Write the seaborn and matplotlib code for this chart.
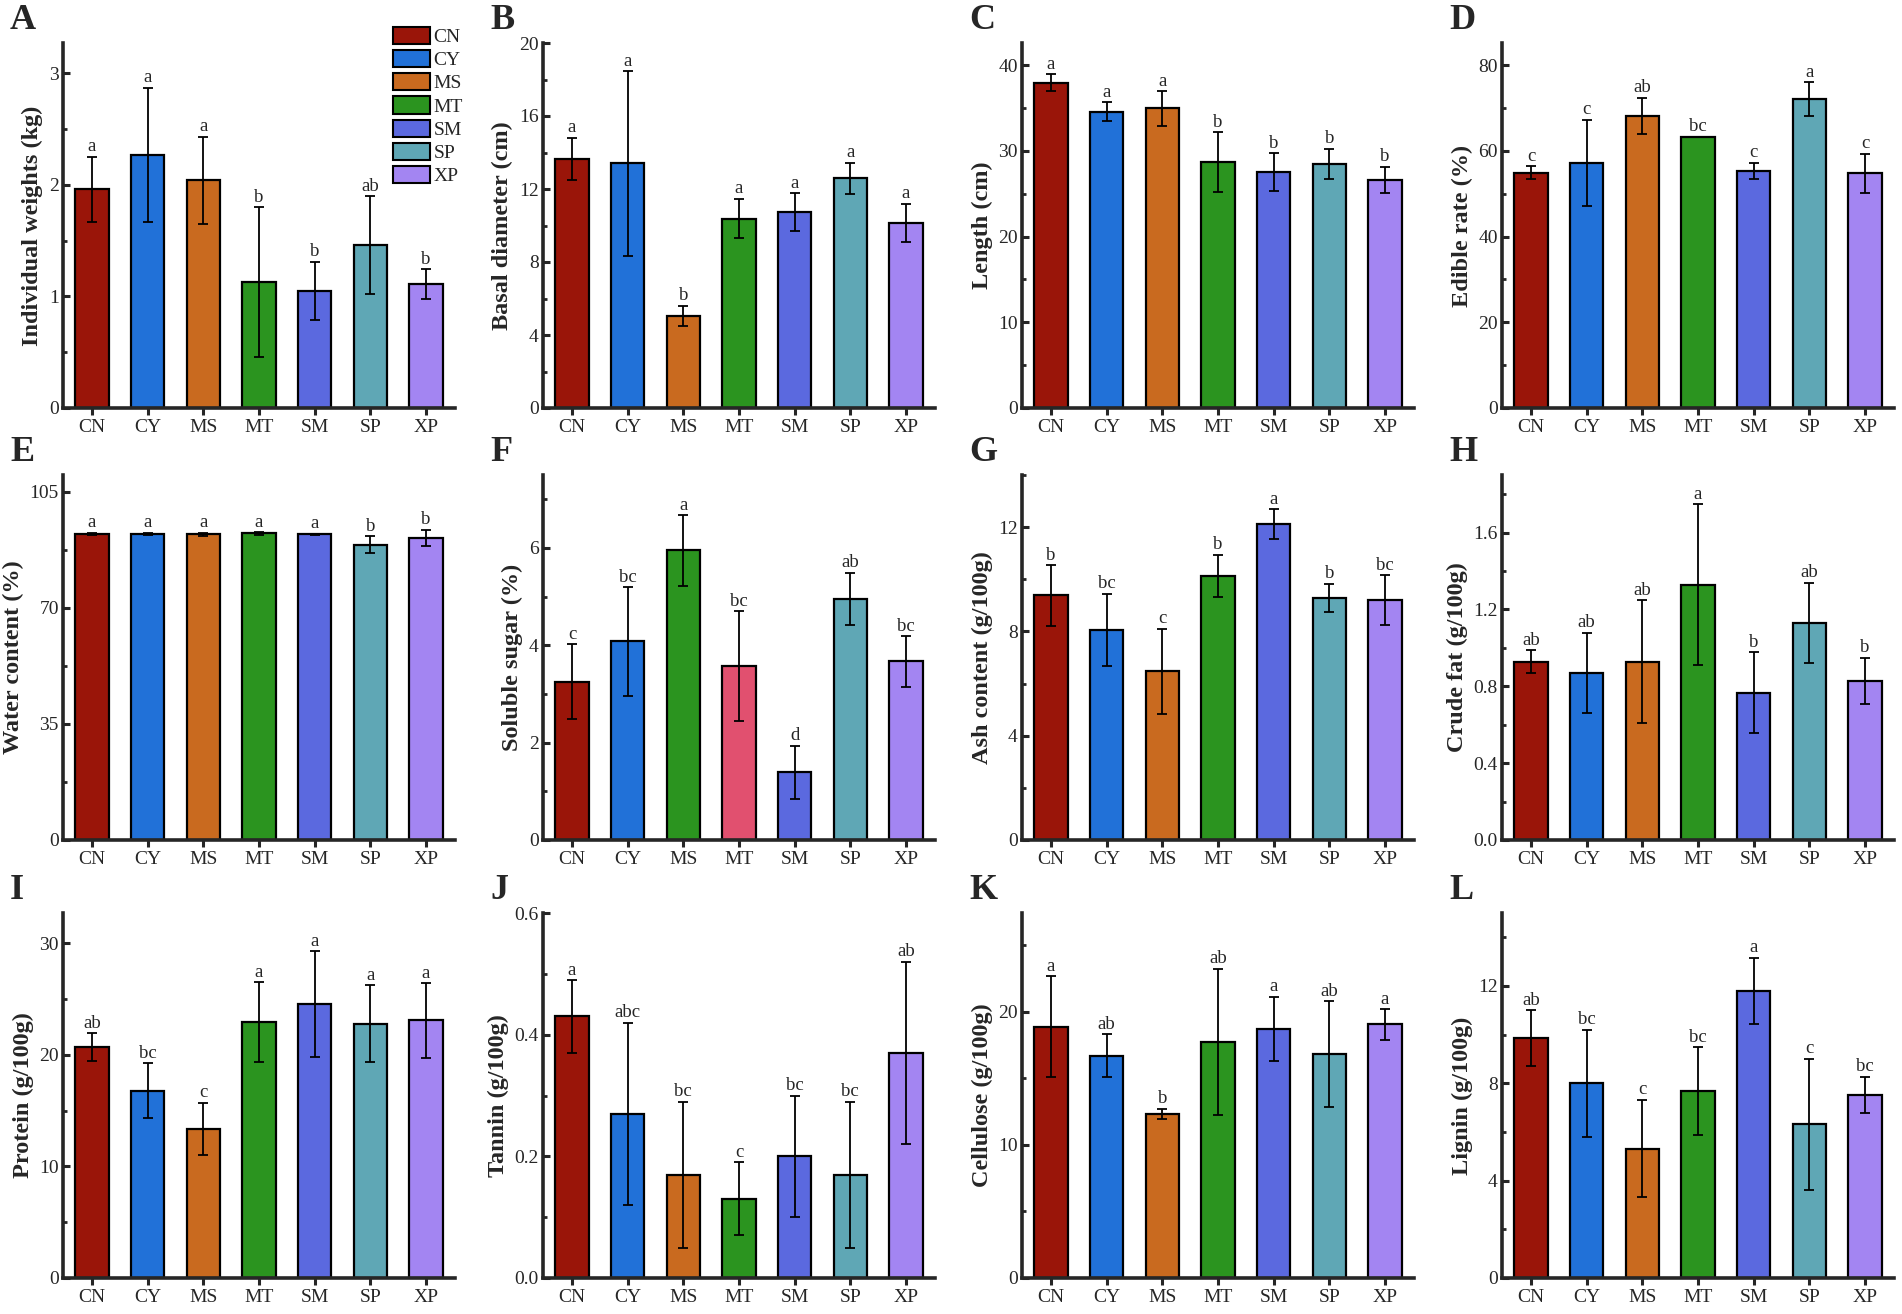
"""
Twelve-panel bar chart of fruit traits for seven groups (CN ... XP),
mean +/- error with significance letters on top of each bar.
"""

import matplotlib
matplotlib.use("Agg")
import matplotlib.pyplot as plt
from matplotlib.patches import Patch
from matplotlib.ticker import AutoMinorLocator, FormatStrFormatter, MultipleLocator
import seaborn as sns

# ---------- data ----------
groups = ["CN", "CY", "MS", "MT", "SM", "SP", "XP"]

weight = [1.96, 2.27, 2.04, 1.13, 1.05, 1.46, 1.11]
weight_err = [0.29, 0.60, 0.39, 0.67, 0.26, 0.44, 0.135]
weight_sig = ["a", "a", "a", "b", "b", "ab", "b"]

diameter = [13.65, 13.40, 5.05, 10.38, 10.73, 12.59, 10.16]
diameter_err = [1.17, 5.07, 0.55, 1.08, 1.05, 0.85, 1.04]
diameter_sig = ["a", "a", "b", "a", "a", "a", "a"]

length = [37.94, 34.57, 34.96, 28.67, 27.55, 28.52, 26.65]
length_err = [1.0, 1.12, 2.0, 3.5, 2.2, 1.75, 1.5]
length_sig = ["a", "a", "a", "b", "b", "b", "b"]

edible = [54.9, 57.2, 68.2, 63.3, 55.4, 72.1, 54.8]
edible_err = [1.5, 10.1, 4.2, 0.0, 1.9, 4.0, 4.6]
edible_sig = ["c", "c", "ab", "bc", "c", "a", "c"]

water = [92.35, 92.35, 92.15, 92.45, 92.15, 89.0, 91.0]
water_err = [0.3, 0.3, 0.5, 0.4, 0.2, 2.6, 2.5]
water_sig = ["a", "a", "a", "a", "a", "b", "b"]

sugar = [3.25, 4.08, 5.95, 3.57, 1.39, 4.95, 3.67]
sugar_err = [0.77, 1.12, 0.73, 1.13, 0.55, 0.54, 0.52]
sugar_sig = ["c", "bc", "a", "bc", "d", "ab", "bc"]

ash = [9.38, 8.06, 6.48, 10.14, 12.12, 9.28, 9.20]
ash_err = [1.17, 1.38, 1.63, 0.81, 0.58, 0.55, 0.95]
ash_sig = ["b", "bc", "c", "b", "a", "b", "bc"]

fat = [0.929, 0.87, 0.929, 1.329, 0.767, 1.13, 0.83]
fat_err = [0.06, 0.21, 0.32, 0.42, 0.21, 0.21, 0.12]
fat_sig = ["ab", "ab", "ab", "a", "b", "ab", "b"]

protein = [20.67, 16.79, 13.39, 22.93, 24.51, 22.78, 23.08]
protein_err = [1.27, 2.43, 2.33, 3.55, 4.75, 3.45, 3.34]
protein_sig = ["ab", "bc", "c", "a", "a", "a", "a"]

tannin = [0.43, 0.27, 0.17, 0.13, 0.20, 0.17, 0.37]
tannin_err = [0.06, 0.15, 0.12, 0.06, 0.10, 0.12, 0.15]
tannin_sig = ["a", "abc", "bc", "c", "bc", "bc", "ab"]

cellulose = [18.87, 16.70, 12.32, 17.73, 18.72, 16.80, 19.04]
cellulose_err = [3.8, 1.6, 0.38, 5.5, 2.4, 4.0, 1.15]
cellulose_sig = ["a", "ab", "b", "ab", "a", "ab", "a"]

lignin = [9.85, 8.01, 5.32, 7.68, 11.79, 6.31, 7.53]
lignin_err = [1.15, 2.2, 2.0, 1.8, 1.37, 2.7, 0.75]
lignin_sig = ["ab", "bc", "c", "bc", "a", "c", "bc"]

colors = ["#9A1509", "#2171D8", "#C96A1F", "#2B941F", "#5B69DF", "#5FA7B5", "#A385F2"]
# panel F uses green for MS and a pink for MT
colors_f = ["#9A1509", "#2171D8", "#2B941F", "#E1506F", "#5B69DF", "#5FA7B5", "#A385F2"]

# (letter, values, errors, letters, y label, ymax, major step, tick format, palette)
panels = [
    ("A", weight, weight_err, weight_sig, "Individual weights (kg)", 3.27, 1, "%g", colors),
    ("B", diameter, diameter_err, diameter_sig, "Basal diameter (cm)", 20.0, 4, "%g", colors),
    ("C", length, length_err, length_sig, "Length (cm)", 42.6, 10, "%g", colors),
    ("D", edible, edible_err, edible_sig, "Edible rate (%)", 85.2, 20, "%g", colors),
    ("E", water, water_err, water_sig, "Water content (%)", 110.0, 35, "%g", colors),
    ("F", sugar, sugar_err, sugar_sig, "Soluble sugar (%)", 7.5, 2, "%g", colors_f),
    ("G", ash, ash_err, ash_sig, "Ash content (g/100g)", 14.0, 4, "%g", colors),
    ("H", fat, fat_err, fat_sig, "Crude fat (g/100g)", 1.90, 0.4, "%.1f", colors),
    ("I", protein, protein_err, protein_sig, "Protein (g/100g)", 32.7, 10, "%g", colors),
    ("J", tannin, tannin_err, tannin_sig, "Tannin (g/100g)", 0.6, 0.2, "%.1f", colors),
    ("K", cellulose, cellulose_err, cellulose_sig, "Cellulose (g/100g)", 27.4, 10, "%g", colors),
    ("L", lignin, lignin_err, lignin_sig, "Lignin (g/100g)", 15.0, 4, "%g", colors),
]

W, H = 1902, 1314
COL_LEFT = [63, 543, 1022, 1502]
ROW_TOP = [43, 475, 913]
AX_W, AX_H = 392, 365


def main():
    sns.set_style("ticks")
    plt.rcParams["font.family"] = ["Liberation Serif", "DejaVu Serif"]

    fig = plt.figure(figsize=(W / 100, H / 100), dpi=100)

    for k, (tag, vals, errs, sig, ylabel, ymax, step, fmt, pal) in enumerate(panels):
        row, col = divmod(k, 4)
        left = COL_LEFT[col]
        top = ROW_TOP[row]
        ax = fig.add_axes([left / W, 1 - (top + AX_H) / H, AX_W / W, AX_H / H])

        sns.barplot(x=groups, y=vals, hue=groups, palette=pal, legend=False,
                    saturation=1, width=0.6, edgecolor="black", linewidth=1.6, ax=ax)
        ax.errorbar(range(len(groups)), vals, yerr=errs, fmt="none",
                    ecolor="black", elinewidth=1.3, capsize=3.5, capthick=1.3)

        for i, (v, e, s) in enumerate(zip(vals, errs, sig)):
            ax.annotate(s, (i, v + e), xytext=(0, 1), textcoords="offset points",
                        ha="center", va="bottom", fontsize=13.5)

        ax.set_xlim(-0.52, 6.52)
        ax.set_ylim(0, ymax)
        ax.yaxis.set_major_locator(MultipleLocator(step))
        ax.yaxis.set_minor_locator(AutoMinorLocator(2))
        ax.yaxis.set_major_formatter(FormatStrFormatter(fmt))
        ax.set_xlabel("")
        ax.set_ylabel(ylabel, fontsize=17.5, fontweight="bold", labelpad=4)

        sns.despine(ax=ax)
        for side in ("left", "bottom"):
            ax.spines[side].set_linewidth(2.6)
        ax.tick_params(axis="x", direction="out", length=5, width=2.2,
                       labelsize=14, pad=3)
        ax.tick_params(axis="y", which="major", direction="in", length=5,
                       width=2.2, labelsize=14, pad=3)
        ax.tick_params(axis="y", which="minor", direction="in", length=3, width=2)

        fig.text((left - 53) / W, 1 - (top - 6) / H, tag, fontsize=26,
                 fontweight="bold", ha="left", va="bottom")

        if tag == "A":
            handles = [Patch(facecolor=c, edgecolor="black", linewidth=1.5, label=g)
                       for g, c in zip(groups, colors)]
            ax.legend(handles=handles, loc="upper right",
                      bbox_to_anchor=(1.02, 1.045), frameon=False, fontsize=14,
                      borderpad=0, handlelength=1.9, handleheight=1.0,
                      labelspacing=0.2, handletextpad=0.2, borderaxespad=0)

    fig.savefig("out.png", dpi=100)
    plt.close(fig)


if __name__ == "__main__":
    main()
